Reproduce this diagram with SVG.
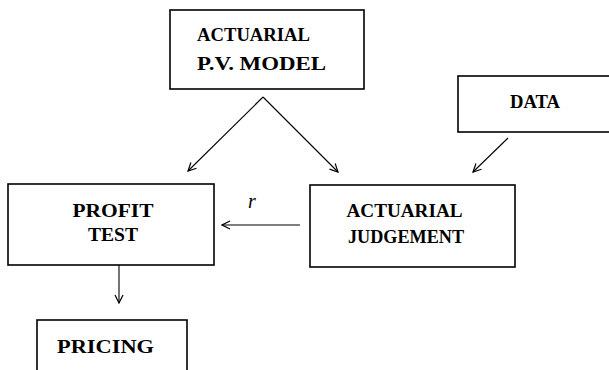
<svg xmlns="http://www.w3.org/2000/svg" width="609" height="370" viewBox="0 0 609 370">
<defs>
<style>
.box{fill:#fff;stroke:#000;stroke-width:1.6}
.t{font-family:"Liberation Serif","DejaVu Serif",serif;font-weight:bold;font-size:18px;fill:#000}
.c{fill:none;stroke:#000;stroke-width:1.1}
</style>
<marker id="ah" viewBox="0 0 10 10" refX="9" refY="5" markerWidth="10" markerHeight="10" markerUnits="userSpaceOnUse" orient="auto">
<polyline points="1,1 9,5 1,9" fill="none" stroke="#000" stroke-width="1.2"/>
</marker>
</defs>
<rect width="609" height="370" fill="#fff"/>
<g id="pvmodel">
<rect class="box" x="170" y="10" width="194" height="79"/>
<text class="t" x="197" y="41" textLength="113" lengthAdjust="spacingAndGlyphs">ACTUARIAL</text>
<text class="t" x="197" y="70" textLength="129" lengthAdjust="spacingAndGlyphs">P.V. MODEL</text>
</g>
<g id="data">
<rect class="box" x="458" y="76" width="160" height="56"/>
<text class="t" x="510" y="108" textLength="50" lengthAdjust="spacingAndGlyphs">DATA</text>
</g>
<g id="profit">
<rect class="box" x="8" y="184" width="206" height="81"/>
<text class="t" x="72.5" y="217" textLength="81" lengthAdjust="spacingAndGlyphs">PROFIT</text>
<text class="t" x="88" y="241" textLength="50" lengthAdjust="spacingAndGlyphs">TEST</text>
</g>
<g id="judgement">
<rect class="box" x="310" y="185" width="205" height="82"/>
<text class="t" x="346.5" y="217" textLength="116" lengthAdjust="spacingAndGlyphs">ACTUARIAL</text>
<text class="t" x="348" y="243" textLength="116" lengthAdjust="spacingAndGlyphs">JUDGEMENT</text>
</g>
<g id="pricing">
<rect class="box" x="37" y="320" width="150" height="60"/>
<text class="t" x="57" y="353" textLength="97" lengthAdjust="spacingAndGlyphs">PRICING</text>
</g>
<g id="connectors">
<line class="c" x1="263" y1="97" x2="188" y2="171" marker-end="url(#ah)"/>
<line class="c" x1="263" y1="97" x2="338" y2="172" marker-end="url(#ah)"/>
<line class="c" x1="508" y1="138" x2="473" y2="172" marker-end="url(#ah)"/>
<line class="c" x1="300" y1="225" x2="222" y2="225" marker-end="url(#ah)"/>
<line class="c" x1="119" y1="265" x2="119" y2="303" marker-end="url(#ah)"/>
<text x="248" y="208" font-family="Liberation Serif,serif" font-style="italic" font-size="20">r</text>
</g>
</svg>
